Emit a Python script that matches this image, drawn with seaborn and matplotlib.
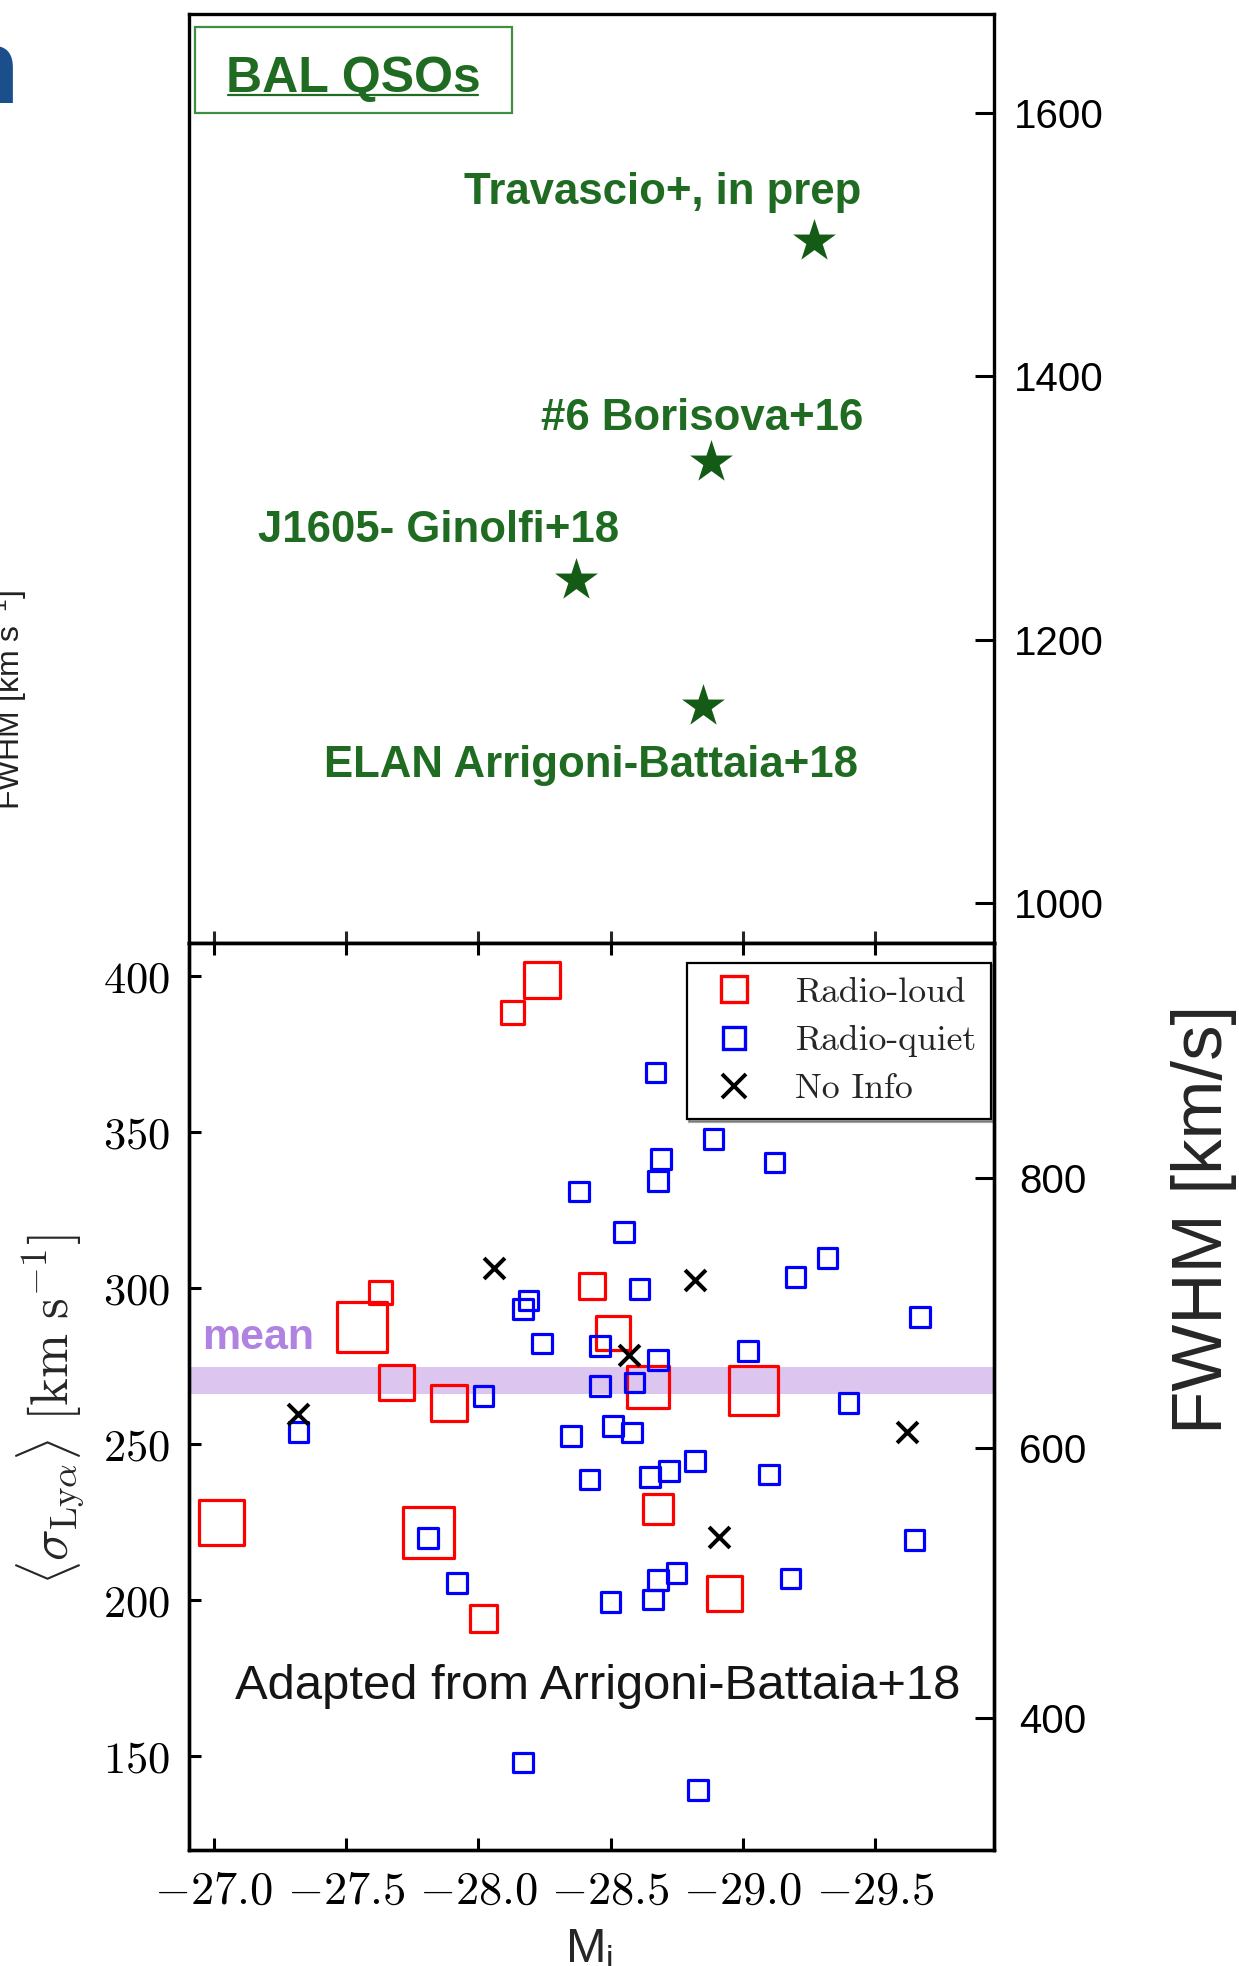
import matplotlib
matplotlib.use("Agg")
import matplotlib.pyplot as plt
import pandas as pd
import seaborn as sns
from matplotlib.lines import Line2D
from matplotlib.patches import Rectangle
from matplotlib.ticker import FuncFormatter

# ---------------------------------------------------------------- data
# Radio-loud QSOs: absolute i magnitude, <sigma_Lya> [km/s], symbol size [pt]
rl_mag = [-28.24, -28.13, -27.63, -27.56, -28.43, -27.69, -27.89, -27.03,
          -27.81, -28.02, -28.51, -28.64, -29.04, -28.68, -28.93]
rl_sigma = [398.9, 388.2, 298.7, 287.6, 300.7, 269.6, 263.1, 224.9,
            221.7, 194.0, 285.5, 268.2, 267.1, 229.2, 202.1]
rl_size = [25.9, 16.6, 16.6, 36.0, 18.7, 25.2, 25.9, 32.4,
           36.7, 19.4, 24.5, 30.2, 35.3, 21.6, 25.2]

# Radio-quiet QSOs
rq_mag = [-28.38, -28.19, -28.17, -28.24, -28.46, -28.02, -28.46, -27.32,
          -28.35, -28.42, -28.51, -28.58, -28.50, -27.81, -27.92, -28.17,
          -29.40, -28.65, -28.72, -28.82, -29.10, -29.65, -28.68, -28.75,
          -28.66, -29.18, -28.83, -28.67, -28.89, -28.69, -28.68, -29.12,
          -28.55, -28.61, -29.20, -29.32, -29.67, -28.68, -29.02, -28.59]
rq_sigma = [330.9, 296.0, 293.3, 282.2, 281.5, 265.4, 268.7, 253.8,
            252.6, 238.7, 255.8, 253.7, 199.4, 220.0, 205.5, 148.0,
            263.1, 239.5, 241.4, 244.6, 240.3, 219.2, 206.4, 208.7,
            200.2, 206.9, 139.1, 369.1, 347.7, 341.3, 334.4, 340.2,
            318.0, 299.7, 303.6, 309.7, 290.8, 276.9, 279.9, 269.7]

# QSOs without radio information
ni_mag = [-28.06, -28.82, -28.57, -27.32, -29.62, -28.91]
ni_sigma = [306.3, 302.6, 278.5, 259.6, 253.9, 220.3]

# mean <sigma_Lya> band
mean_sigma = (266.0, 274.8)

# BAL QSO nebulae: FWHM [km/s]
bal_names = ["Travascio+, in prep", "#6 Borisova+16",
             "J1605- Ginolfi+18", "ELAN Arrigoni-Battaia+18"]
bal_mag = [-29.27, -28.88, -28.37, -28.85]
bal_fwhm = [1503, 1335, 1245, 1150]

mag_ticks = [-27.0, -27.5, -28.0, -28.5, -29.0, -29.5]
sigma_ticks = [150, 200, 250, 300, 350, 400]
fwhm_ticks_top = [1000, 1200, 1400, 1600]
fwhm_ticks_bot = [400, 600, 800]

# ---------------------------------------------------------------- style
sns.set_theme(style="white")
plt.rcParams.update({
    "font.family": ["Liberation Sans", "DejaVu Sans"],
    "mathtext.fontset": "cm",
    "mathtext.rm": "Liberation Sans",
    "mathtext.it": "Liberation Sans:italic",
    "mathtext.bf": "Liberation Sans:bold",
    "mathtext.sf": "Liberation Sans",
})

W, H, DPI = 1239, 1966, 100
fig = plt.figure(figsize=(W / DPI, H / DPI), dpi=DPI)
fig.patch.set_facecolor("white")


def fx(px):
    return px / W


def fy(py):
    return 1 - py / H


L, R = 188.7, 994.0
T_TOP, MID, B_BOT = 14.0, 942.7, 1850.0
ax_top = fig.add_axes([fx(L), fy(MID), (R - L) / W, (MID - T_TOP) / H])
ax_bot = fig.add_axes([fx(L), fy(B_BOT), (R - L) / W, (B_BOT - MID) / H])

GREEN_TXT = "#1f6b21"
GREEN_STAR = "#145c16"
XLIM = (-26.905, -29.95)
cm_fmt_int = FuncFormatter(lambda v, p: r"$%d$" % v)
cm_fmt_dec = FuncFormatter(lambda v, p: r"$%.1f$" % v)

for ax in (ax_top, ax_bot):
    for sp in ax.spines.values():
        sp.set_color("black")
        sp.set_linewidth(2.4)

# ---------------------------------------------------------------- top panel
bal_df = pd.DataFrame({"mag": bal_mag, "fwhm": bal_fwhm, "name": bal_names})
sns.scatterplot(data=bal_df, x="mag", y="fwhm", marker="*", s=1050,
                color=GREEN_STAR, edgecolor=GREEN_STAR, linewidth=0,
                legend=False, ax=ax_top, zorder=3)
ax_top.set_xlim(*XLIM)
ax_top.set_ylim(970, 1675)
ax_top.set_xlabel("")
ax_top.set_ylabel("")
ax_top.yaxis.tick_right()
ax_top.set_yticks(fwhm_ticks_top, labels=[str(t) for t in fwhm_ticks_top],
                  fontsize=29, fontfamily="Liberation Sans")
ax_top.tick_params(axis="y", direction="in", length=13.7, width=2.2, pad=14,
                   right=True, left=False, colors="black")
ax_top.set_xticks(mag_ticks)
ax_top.tick_params(axis="x", direction="in", length=8.6, width=2.2,
                   bottom=True, top=False, labelbottom=False)

label_pos = [(662.2, 204.4), (702.3, 430.0), (438.9, 541.7), (590.6, 777.5)]
for name, (px, py) in zip(bal_names, label_pos):
    fig.text(fx(px), fy(py), name, ha="center", va="baseline", fontsize=31.5,
             fontweight="bold", color=GREEN_TXT, fontfamily="Liberation Sans")

# "BAL QSOs" box
fig.add_artist(Rectangle((fx(195), fy(113.3)), (511.7 - 195) / W, (113.3 - 26.7) / H,
                         transform=fig.transFigure, fill=False,
                         edgecolor="#3f8f42", linewidth=1.6))
fig.text(fx(353.3), fy(91.7), "BAL QSOs", ha="center", va="baseline",
         fontsize=36, fontweight="bold", color=GREEN_TXT,
         fontfamily="Liberation Sans")
fig.add_artist(Line2D([fx(228), fx(478)], [fy(94.5), fy(94.5)],
                      transform=fig.transFigure, color=GREEN_TXT, lw=1.6))

# ---------------------------------------------------------------- bottom panel
ax_bot.axhspan(*mean_sigma, color="#9b59d0", alpha=0.35, lw=0, zorder=0.5)

rl_df = pd.DataFrame({"mag": rl_mag, "sigma": rl_sigma,
                      "area": [s ** 2 for s in rl_size]})
rq_df = pd.DataFrame({"mag": rq_mag, "sigma": rq_sigma})
ni_df = pd.DataFrame({"mag": ni_mag, "sigma": ni_sigma})

amin, amax = rl_df["area"].min(), rl_df["area"].max()
sns.scatterplot(data=rl_df, x="mag", y="sigma", size="area",
                sizes=(amin, amax), size_norm=(amin, amax), marker="s",
                facecolor="none", edgecolor="#ff0000", linewidth=2.3,
                legend=False, ax=ax_bot, zorder=2)
sns.scatterplot(data=rq_df, x="mag", y="sigma", marker="s", s=200,
                facecolor="none", edgecolor="#0000ff", linewidth=2.3,
                legend=False, ax=ax_bot, zorder=2)
sns.scatterplot(data=ni_df, x="mag", y="sigma", marker="x", s=225,
                color="black", linewidth=2.9, legend=False, ax=ax_bot, zorder=3)

ax_bot.set_xlim(*XLIM)
ax_bot.set_ylim(119.9, 410.7)
ax_bot.set_xlabel("")
ax_bot.set_ylabel("")
ax_bot.set_xticks(mag_ticks)
ax_bot.xaxis.set_major_formatter(cm_fmt_dec)
ax_bot.set_yticks(sigma_ticks)
ax_bot.yaxis.set_major_formatter(cm_fmt_int)
ax_bot.tick_params(axis="x", direction="in", length=8.6, width=2.2, pad=14,
                   top=True, bottom=True, labelsize=33.5, colors="black")
ax_bot.tick_params(axis="y", direction="in", length=8.6, width=2.2, pad=13.7,
                   left=True, right=False, labelsize=32, colors="black")

ax_r = ax_bot.twinx()
ax_r.set_ylim(302, 974)
ax_r.set_yticks(fwhm_ticks_bot, labels=[str(t) for t in fwhm_ticks_bot],
                fontsize=29, fontfamily="Liberation Sans")
ax_r.tick_params(axis="y", direction="in", length=13.7, width=2.2, pad=18,
                 colors="black")
for sp in ax_r.spines.values():
    sp.set_color("black")
    sp.set_linewidth(2.4)

handles = [
    Line2D([], [], ls="none", marker="s", ms=19, mfc="none", mec="#ff0000", mew=2.4),
    Line2D([], [], ls="none", marker="s", ms=16, mfc="none", mec="#0000ff", mew=2.4),
    Line2D([], [], ls="none", marker="x", ms=17, color="black", mew=2.8),
]
leg = ax_bot.legend(handles, ["Radio-loud", "Radio-quiet", "No Info"],
                    loc="upper right", bbox_to_anchor=(0.9963, 0.978),
                    borderaxespad=0, prop={"family": "cmr10", "size": 25.7},
                    frameon=True, fancybox=False, shadow=True, framealpha=1,
                    edgecolor="black", handlelength=1.85, handletextpad=0.8,
                    labelspacing=0.45, borderpad=0.4)
leg.get_frame().set_linewidth(1.6)
leg.set_zorder(5)

fig.text(fx(202), fy(1349.3), "mean", ha="left", va="baseline", fontsize=31,
         fontweight="bold", color="#b083e3", fontfamily="Liberation Sans")
fig.text(fx(597.3), fy(1699.3), "Adapted from Arrigoni-Battaia+18",
         ha="center", va="baseline", fontsize=35.3, color="#151515",
         fontfamily="Liberation Sans")

# ---------------------------------------------------------------- axis titles
fig.text(fx(50), fy(1410), r"$\langle\sigma_{\rm Ly\alpha}\rangle\ [\rm km\ s^{-1}]$",
         rotation=90, ha="center", va="center", fontsize=38, math_fontfamily="cm")
fig.text(fx(1204), fy(1219.6), "FWHM [km/s]", rotation=90, ha="center",
         va="center", fontsize=51, fontfamily="Liberation Sans")
fig.text(fx(589.4), fy(1962.5), r"M$_{\rm i}$", ha="center", va="baseline",
         fontsize=35, fontfamily="Liberation Sans", math_fontfamily="custom")
fig.text(fx(20), fy(700), r"FWHM [km s$^{-1}$]", rotation=90,
         rotation_mode="anchor", ha="center", va="baseline", fontsize=23,
         fontfamily="Liberation Sans", math_fontfamily="custom", color="#222222")
fig.text(fx(-45), fy(103.3), "n", ha="left", va="baseline", fontsize=76,
         fontweight="bold", color="#1b4f8c", fontfamily="Liberation Sans")

fig.savefig("out.png", dpi=DPI, facecolor="white")
